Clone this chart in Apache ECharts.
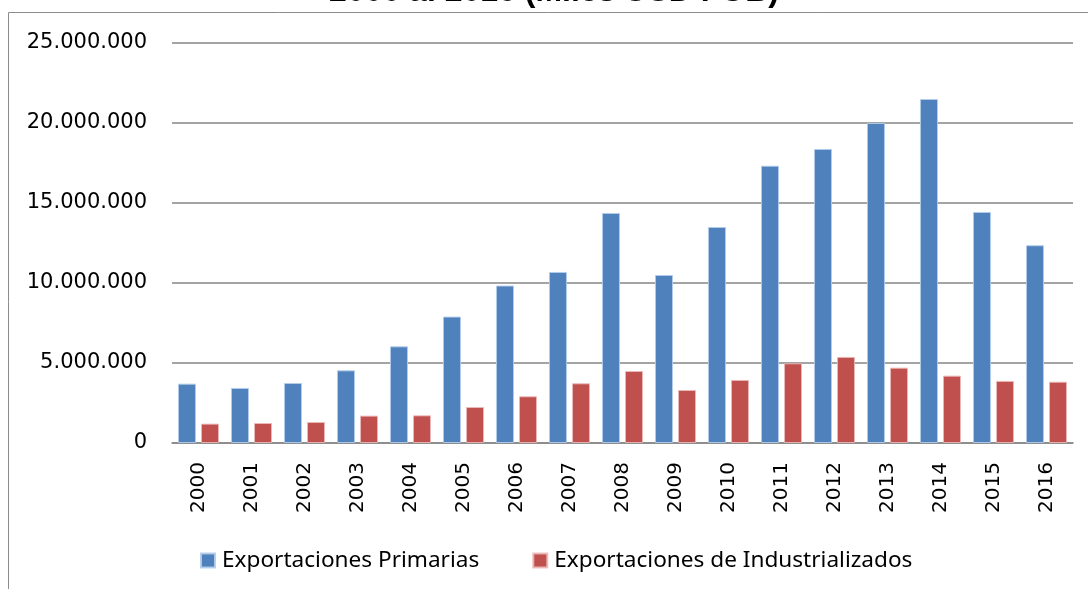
<!DOCTYPE html>
<html>
<head>
<meta charset="utf-8">
<script src="https://cdn.jsdelivr.net/npm/echarts@6/dist/echarts.min.js"></script>
<style>
  html, body { margin: 0; padding: 0; background: #fff; }
  #chart_wrap { width: 1088px; height: 589px; }
</style>
</head>
<body>
<div id="chart_wrap"></div>
<script>
// años
var years = ['2000', '2001', '2002', '2003', '2004', '2005', '2006', '2007', '2008',
             '2009', '2010', '2011', '2012', '2013', '2014', '2015', '2016'];
// miles USD FOB
var primarias = [3710000, 3440000, 3750000, 4540000, 6040000, 7900000, 9840000, 10690000, 14380000,
                 10500000, 13500000, 17330000, 18380000, 20000000, 21500000, 14440000, 12360000];
var industrializados = [1210000, 1250000, 1310000, 1710000, 1730000, 2250000, 2920000, 3730000, 4500000,
                        3310000, 3940000, 4980000, 5380000, 4710000, 4210000, 3880000, 3830000];
var seriesNames = ['Exportaciones Primarias', 'Exportaciones de Industrializados'];
var titleText = '2000 al 2016 (Miles USD FOB)';

var fmtMiles = function (v) {
    return String(v).replace(/\B(?=(\d{3})+(?!\d))/g, '.');
};

var chart = echarts.init(document.getElementById('chart_wrap'));

chart.setOption({
    animation: false,
    color: ['#4F81BD', '#C0504D'],
    graphic: [
        {
            // marco del área del gráfico
            type: 'rect',
            silent: true,
            shape: { x: 8.5, y: 12.5, width: 1200, height: 1000 },
            style: { fill: 'none', stroke: '#8c8c8c', lineWidth: 1 }
        },
        {
            // título (cortado arriba, como en la imagen)
            type: 'text',
            silent: true,
            style: {
                text: titleText,
                x: 554,
                y: 8,
                align: 'center',
                verticalAlign: 'bottom',
                font: 'bold 32px "Liberation Sans", Arial, sans-serif',
                fill: '#000'
            }
        }
    ],
    grid: {
        left: 172,
        right: 15,
        top: 43,
        bottom: 146
    },
    legend: {
        left: 200,
        top: 549,
        padding: 0,
        icon: 'rect',
        itemWidth: 14,
        itemHeight: 14,
        itemGap: 53,
        data: seriesNames,
        textStyle: {
            fontFamily: '"Noto Sans", sans-serif',
            fontSize: 22.6,
            color: '#000',
            padding: [0, 0, 0, 2]
        }
    },
    xAxis: {
        type: 'category',
        data: years,
        axisLine: { show: true, lineStyle: { color: '#868686', width: 1.5 } },
        axisTick: { show: false },
        axisLabel: {
            rotate: 90,
            margin: 19,
            fontFamily: '"DejaVu Sans", Verdana, sans-serif',
            fontSize: 20,
            color: '#000'
        }
    },
    yAxis: {
        type: 'value',
        min: 0,
        max: 25000000,
        interval: 5000000,
        axisLine: { show: false },
        axisTick: { show: false },
        splitLine: { lineStyle: { color: '#868686', width: 1.5 } },
        axisLabel: {
            margin: 25,
            fontFamily: '"DejaVu Sans", Verdana, sans-serif',
            fontSize: 21,
            color: '#000',
            formatter: fmtMiles
        }
    },
    series: [
        {
            name: seriesNames[0],
            type: 'bar',
            barWidth: 18,
            barGap: '28%',
            itemStyle: { borderColor: 'rgba(180,205,235,0.9)', borderWidth: 1 },
            data: primarias
        },
        {
            name: seriesNames[1],
            type: 'bar',
            barWidth: 18,
            barGap: '28%',
            itemStyle: { borderColor: 'rgba(235,185,185,0.9)', borderWidth: 1 },
            data: industrializados
        }
    ]
});
</script>
</body>
</html>
